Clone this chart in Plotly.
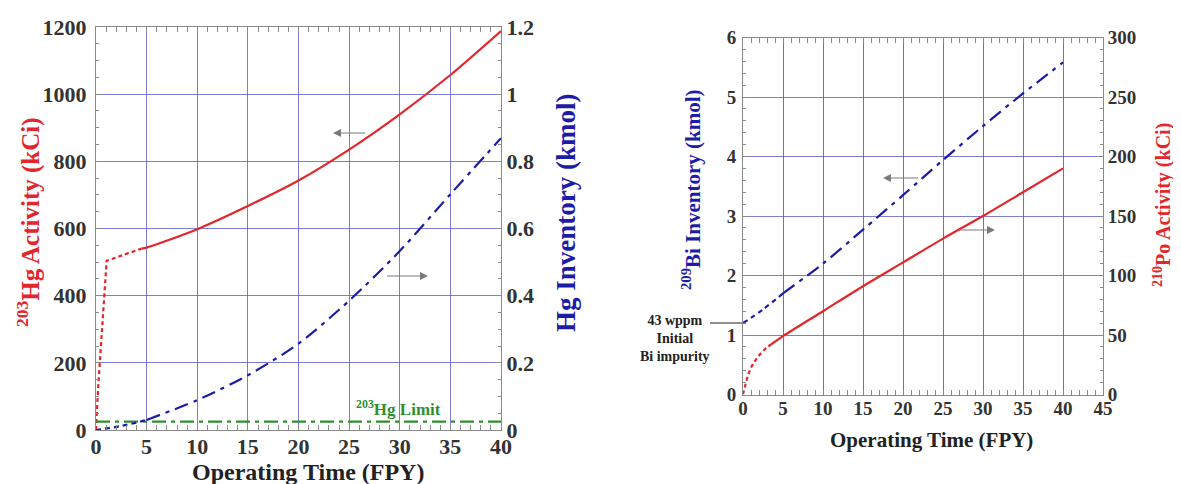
import plotly.graph_objects as go

# ---------------- data ----------------
# Left chart: 203Hg activity (kCi, left axis) and Hg inventory (kmol, right axis)
hg_act_start_t = [0, 0.2, 1.05, 4.5]
hg_act_start = [0, 120, 504, 540]
hg_act_t = [4.5, 5, 10, 15, 20, 25, 30, 35, 40]
hg_act = [540, 543, 598, 667, 743, 835, 940, 1057, 1188]

hg_inv_start_t = [0, 2.5, 5]
hg_inv_start = [0, 0.012, 0.03]
hg_inv_t = [5, 10, 15, 20, 25, 30, 35, 40]
hg_inv = [0.03, 0.089, 0.163, 0.257, 0.385, 0.533, 0.702, 0.869]

hg_limit_t = [0, 40]
hg_limit = [25, 25]

# Right chart: 209Bi inventory (kmol, left axis) and 210Po activity (kCi, right axis)
bi_start_t = [0, 2.5, 5]
bi_start = [1.2, 1.43, 1.7]
bi_t = [5, 10, 15, 20, 25, 30, 35, 40]
bi_inv = [1.7, 2.2, 2.77, 3.35, 3.94, 4.51, 5.06, 5.58]

po_start_t = [0, 0.9, 1.9, 2.9, 3.5]
po_start = [0, 21, 32, 39, 42]
po_t = [3.5, 5, 10, 15, 20, 25, 30, 35, 40]
po_act = [42, 49, 70, 91, 111, 131, 150, 170, 190]

left_x_ticks = [0, 5, 10, 15, 20, 25, 30, 35, 40]
left_y_ticks = [0, 200, 400, 600, 800, 1000, 1200]
left_y2_ticks = [0, 0.2, 0.4, 0.6, 0.8, 1, 1.2]
right_x_ticks = [0, 5, 10, 15, 20, 25, 30, 35, 40, 45]
right_y_ticks = [0, 1, 2, 3, 4, 5, 6]
right_y2_ticks = [0, 50, 100, 150, 200, 250, 300]

# ---------------- styling ----------------
OFF = 8                      # page body margin
W, H = 1181 - OFF, 484 - OFF
RED = "#e3262b"
BLUE = "#1c1ca8"
GREEN = "#2f8f2f"
GRID = "rgba(80,80,205,0.75)"
GRID_DARK = "rgba(70,70,130,0.75)"
AXC = "#8a8a8a"
SERIF = "Liberation Serif"


def px_x(p):
    return (p - OFF) / W


def px_y(p):
    return (H - (p - OFF)) / H


fig = go.Figure()

# left chart traces
fig.add_trace(go.Scatter(x=hg_act_start_t, y=hg_act_start, mode="lines",
                         line=dict(color=RED, width=2.2, dash="4px,3px"),
                         xaxis="x", yaxis="y"))
fig.add_trace(go.Scatter(x=hg_act_t, y=hg_act, mode="lines",
                         line=dict(color=RED, width=2.2, shape="spline", smoothing=0.8),
                         xaxis="x", yaxis="y"))
fig.add_trace(go.Scatter(x=hg_limit_t, y=hg_limit, mode="lines",
                         line=dict(color=GREEN, width=2.2, dash="14px,5px,4px,5px"),
                         xaxis="x", yaxis="y"))
fig.add_trace(go.Scatter(x=hg_inv_start_t, y=hg_inv_start, mode="lines",
                         line=dict(color=BLUE, width=2.2, dash="5px,4px", shape="spline"),
                         xaxis="x", yaxis="y2"))
fig.add_trace(go.Scatter(x=hg_inv_t, y=hg_inv, mode="lines",
                         line=dict(color=BLUE, width=2.2, dash="14px,6px,4px,6px",
                                   shape="spline", smoothing=0.8),
                         xaxis="x", yaxis="y2"))

# right chart traces
fig.add_trace(go.Scatter(x=bi_start_t, y=bi_start, mode="lines",
                         line=dict(color=BLUE, width=2.2, dash="5px,4px", shape="spline"),
                         xaxis="x2", yaxis="y3"))
fig.add_trace(go.Scatter(x=bi_t, y=bi_inv, mode="lines",
                         line=dict(color=BLUE, width=2.2, dash="14px,6px,4px,6px",
                                   shape="spline", smoothing=0.8),
                         xaxis="x2", yaxis="y3"))
fig.add_trace(go.Scatter(x=po_start_t, y=po_start, mode="lines",
                         line=dict(color=RED, width=2.2, dash="4px,3px", shape="spline"),
                         xaxis="x2", yaxis="y4"))
fig.add_trace(go.Scatter(x=po_t, y=po_act, mode="lines",
                         line=dict(color=RED, width=2.2, shape="spline", smoothing=0.8),
                         xaxis="x2", yaxis="y4"))

tick_big = dict(family=SERIF, size=22, color="#333333", weight="bold")
tick_small = dict(family=SERIF, size=19, color="#333333", weight="bold")


def axis(domain, rng, ticks, font, minor_dtick, grid=True, **kw):
    d = dict(domain=domain, range=rng, tickvals=ticks, tickfont=font,
             showline=True, linecolor=AXC, linewidth=1, mirror=False,
             showgrid=grid, gridcolor=GRID, gridwidth=1,
             ticks="inside", ticklen=5, tickcolor=AXC,
             minor=dict(dtick=minor_dtick, ticks="inside", ticklen=3, tickcolor=AXC,
                        showgrid=False),
             zeroline=False, fixedrange=True, automargin=False)
    d.update(kw)
    return d


lx_dom = [px_x(96), px_x(501)]
ly_dom = [px_y(430), px_y(27)]
rx_dom = [px_x(743), px_x(1103)]
ry_dom = [px_y(394.5), px_y(37.5)]

fig.update_layout(
    width=W, height=H,
    margin=dict(l=0, r=0, t=0, b=0, autoexpand=False),
    paper_bgcolor="white", plot_bgcolor="white",
    showlegend=False,
    xaxis=axis(lx_dom, [0, 40], left_x_ticks, tick_big, 1, anchor="y", mirror="allticks",
               ticklabelstandoff=-3),
    yaxis=axis(ly_dom, [0, 1200], left_y_ticks, tick_big, 50, anchor="x",
               ticklabelstandoff=4),
    yaxis2=axis(ly_dom, [0, 1.2], left_y2_ticks, tick_big, 0.05, grid=False,
                overlaying="y", side="right", anchor="x"),
    xaxis2=axis(rx_dom, [0, 45], right_x_ticks, tick_small, 1, anchor="y3", mirror="allticks",
                ticklabelstandoff=-3, gridcolor=GRID_DARK),
    yaxis3=axis(ry_dom, [0, 6], right_y_ticks, tick_small, 0.2, anchor="x2",
                ticklabelstandoff=2),
    yaxis4=axis(ry_dom, [0, 300], right_y2_ticks, tick_small, 10, grid=False,
                overlaying="y3", side="right", anchor="x2"),
)

title_font = dict(family=SERIF, size=24, weight="bold")
C = dict(xref="paper", yref="paper", xanchor="center", yanchor="middle", showarrow=False)
ann = []
# axis titles
ann.append(dict(C, text="Operating Time (FPY)", x=px_x(308), y=px_y(472),
                font=dict(title_font, color="#222222")))
ann.append(dict(C, text="Operating Time (FPY)", x=px_x(931), y=px_y(440),
                font=dict(title_font, size=21, color="#222222")))
ann.append(dict(C, text="<sup>203</sup>Hg Activity (kCi)", x=px_x(29), y=px_y(222),
                textangle=-90, font=dict(title_font, size=25, color=RED)))
ann.append(dict(C, text="Hg Inventory (kmol)", x=px_x(566), y=px_y(213),
                textangle=-90, font=dict(title_font, size=27, color=BLUE)))
ann.append(dict(C, text="<sup>209</sup>Bi Inventory (kmol)", x=px_x(691), y=px_y(190),
                textangle=-90, font=dict(title_font, size=21, color=BLUE)))
ann.append(dict(C, text="<sup>210</sup>Po Activity (kCi)", x=px_x(1162), y=px_y(205),
                textangle=-90, font=dict(title_font, size=20, color=RED)))
# Hg limit label
ann.append(dict(C, text="<sup>203</sup>Hg Limit", x=px_x(398), y=px_y(408),
                font=dict(family=SERIF, size=17, weight="bold", color=GREEN)))
# initial Bi impurity
ann.append(dict(C, text="43 wppm<br>Initial<br>Bi impurity", x=px_x(675), y=px_y(338),
                align="center", font=dict(family=SERIF, size=14, weight="bold", color="#222222")))
# direction arrows
arrow = dict(showarrow=True, arrowhead=2, arrowsize=1.6, arrowwidth=1, arrowcolor="#7a7a7a",
             text=" ", ay=0, xref="paper", yref="paper", font=dict(size=2))
ann.append(dict(arrow, x=px_x(333), y=px_y(133), ax=34))
ann.append(dict(arrow, x=px_x(428), y=px_y(276), ax=-43))
ann.append(dict(arrow, x=px_x(883), y=px_y(178), ax=37))
ann.append(dict(arrow, x=px_x(995), y=px_y(230), ax=-38))
fig.update_layout(annotations=ann)

fig.add_shape(type="line", xref="paper", yref="paper", x0=px_x(710), x1=px_x(742),
              y0=px_y(323), y1=px_y(323), line=dict(color="#222222", width=1))

fig.write_html("out.html")
